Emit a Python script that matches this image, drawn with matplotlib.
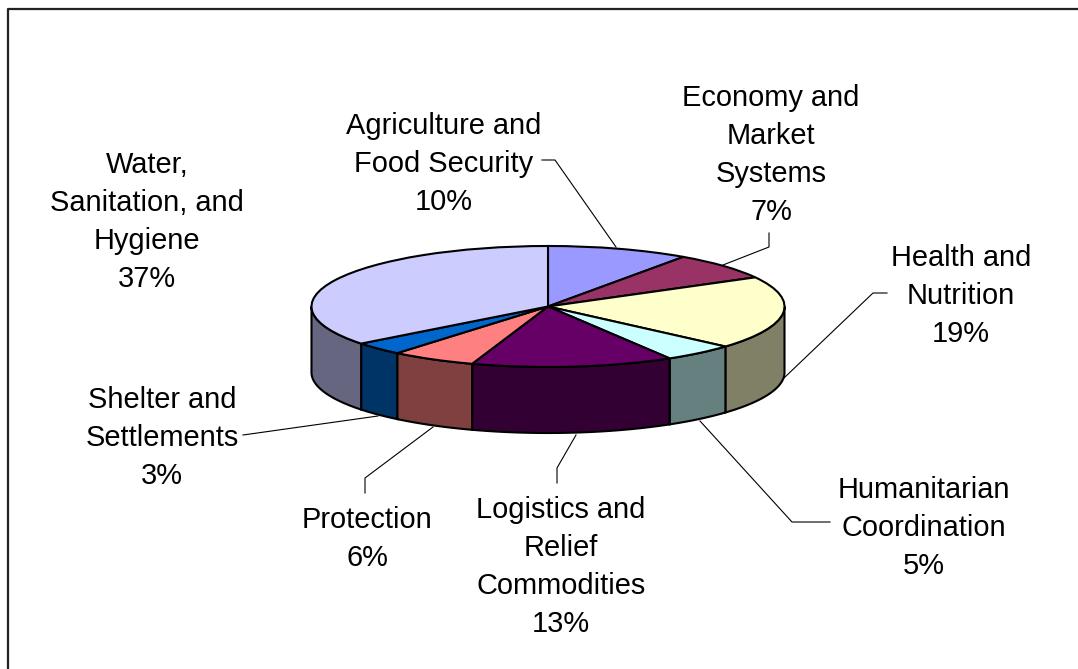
import numpy as np
import matplotlib
matplotlib.use('Agg')
import matplotlib.pyplot as plt

plt.rcParams['font.family'] = ['Liberation Sans', 'DejaVu Sans']

labels = ['Agriculture and\nFood Security\n10%', 'Economy and\nMarket\nSystems\n7%',
          'Health and\nNutrition\n19%', 'Humanitarian\nCoordination\n5%',
          'Logistics and\nRelief\nCommodities\n13%', 'Protection\n6%',
          'Shelter and\nSettlements\n3%', 'Water,\nSanitation, and\nHygiene\n37%']
shares = [9.7, 7.3, 19.5, 4.9, 13.8, 5.8, 3.5, 35.5]
top_colors = ['#9999FF', '#993366', '#FFFFCC', '#CCFFFF', '#660066', '#FF8080', '#0066CC', '#CCCCFF']
side_colors = ['#4C4C80', '#4C1933', '#808066', '#668080', '#330033', '#804040', '#003366', '#666680']

label_xy = [(444, 164), (771, 155), (961, 296), (924, 528), (561, 567), (367, 539), (162, 438), (147, 222)]
leaders = [
    [(542, 160), (555, 160), (616, 247)],
    [(769, 233), (769, 247), (723, 265)],
    [(887, 293), (873, 293), (784, 378)],
    [(830, 522), (792, 522), (700, 421)],
    [(557, 483), (557, 468), (576, 435)],
    [(365, 493), (365, 478), (433, 427)],
    [(243, 435), (378, 416)],
]

# pie box in pixels
cx, cy, rx, ry = 548, 306.5, 236.5, 60.5
depth = 66 / ry

W, H = 1078, 669
fig = plt.figure(figsize=(W / 100, H / 100), dpi=100)

ax = fig.add_axes([0, 0, 1, 1])
ax.set_xlim(0, W)
ax.set_ylim(H, 0)
ax.axis('off')

pie_ax = fig.add_axes([(cx - rx) / W, 1 - (cy + ry) / H, 2 * rx / W, 2 * ry / H])
pie_ax.pie(shares, colors=top_colors, startangle=90, counterclock=False,
           wedgeprops={'edgecolor': 'black', 'linewidth': 1.5}, frame=False)
pie_ax.set_aspect('auto')
pie_ax.set_xlim(-1, 1)
pie_ax.set_ylim(-1, 1)
pie_ax.set_axis_off()

# side wall, front half of the rim only
edges = np.cumsum([0] + shares) / sum(shares) * 360
for i in range(len(shares)):
    a0, a1 = max(edges[i], 90), min(edges[i + 1], 270)
    if a1 <= a0:
        continue
    t = np.radians(np.linspace(a0, a1, 60))
    x, y = np.sin(t), np.cos(t)
    pie_ax.fill(np.r_[x, x[::-1]], np.r_[y, y[::-1] - depth], facecolor=side_colors[i],
                edgecolor='black', linewidth=1.5, clip_on=False, zorder=0.5)

for xy, s in zip(label_xy, labels):
    ax.text(xy[0], xy[1], s, ha='center', va='center', fontsize=20.9, color='black', linespacing=1.465)

for pts in leaders:
    pts = np.array(pts)
    ax.plot(pts[:, 0], pts[:, 1], color='black', lw=0.8)

# chart frame, only top and left are in the crop
ax.plot([8, 8, W], [H, 8.5, 8.5], color='#222222', lw=1.6, clip_on=False)

fig.savefig('out.png', dpi=100)
